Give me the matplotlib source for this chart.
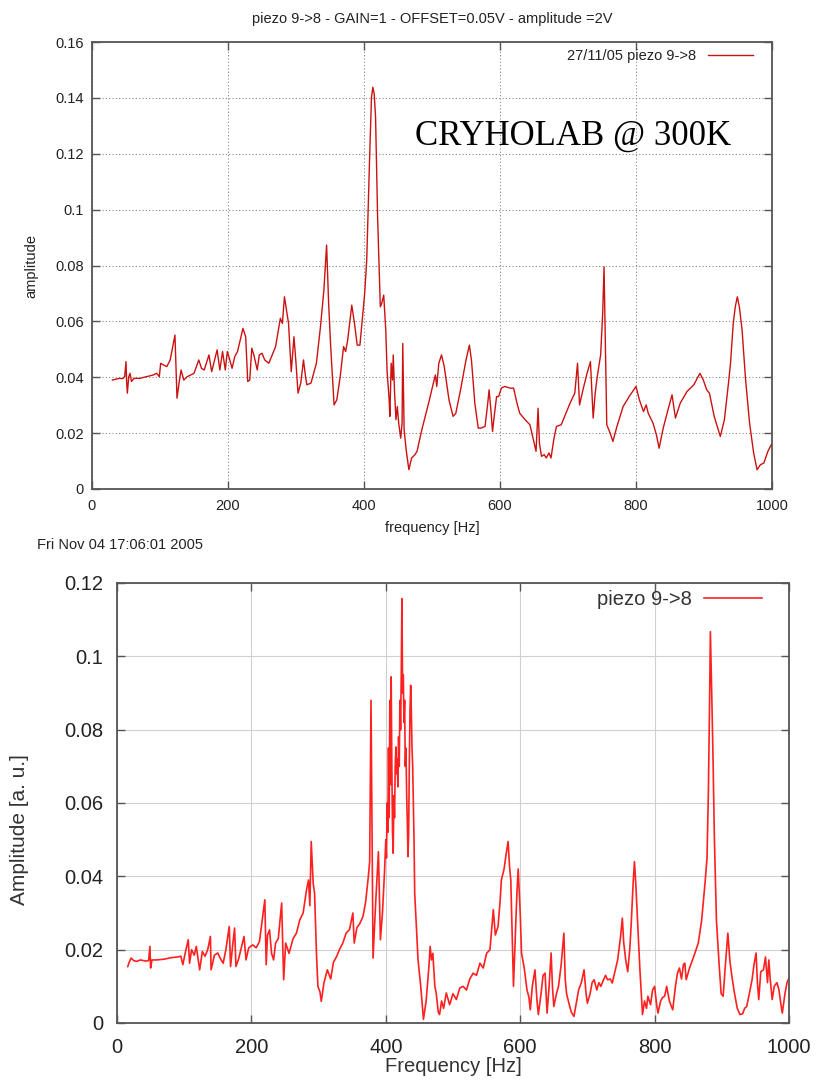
import matplotlib
matplotlib.use("Agg")
import matplotlib.pyplot as plt

# ---------------- data: top panel (27/11/05 piezo 9->8) ----------------
top_freq = [30, 35, 40, 45, 48, 50, 51, 52, 54, 56, 58, 62, 70, 80, 90, 95, 99, 101, 105, 110,
            115, 122, 125, 128, 131, 135, 140, 150, 157, 161, 165, 172, 176, 184, 188, 192, 196, 199,
            202, 206, 210, 214, 222, 226, 229, 232, 235, 238, 243, 246, 250, 254, 260, 265, 270,
            277, 280, 283, 286, 289, 293, 297, 300, 303, 307, 311, 314, 316, 322, 330, 336, 341,
            345, 348, 351, 356, 360, 365, 370, 373, 376, 382, 386, 390, 394, 397, 401, 404, 408,
            411, 413, 415, 417, 420, 424, 426, 429, 432, 434, 437, 438, 440, 442, 443, 445, 447,
            449, 451, 454, 456, 457, 459, 462, 466, 470, 475, 478, 485, 495, 502, 505, 507,
            510, 514, 518, 525, 531, 535, 542, 550, 555, 558, 563, 568, 572, 578, 582, 584, 587,
            589, 592, 595, 598, 602, 607, 615, 620, 625, 629, 637, 644, 648, 653, 656, 658, 661,
            665, 668, 672, 675, 679, 683, 690, 695, 703, 710, 714, 717, 722, 728, 733, 737, 740,
            743, 748, 751, 753, 755, 757, 762, 766, 772, 781, 790, 800, 805, 811, 815, 818, 825,
            830, 834, 840, 847, 853, 858, 865, 875, 885, 894, 899, 904, 908, 915, 924, 930, 936,
            939, 943, 946, 949, 952, 956, 961, 967, 973, 978, 983, 988, 994, 1000]
top_amp = [0.0390, 0.0393, 0.0396, 0.0395, 0.0402, 0.0456, 0.0379, 0.0343, 0.0402, 0.0414, 0.0385,
           0.0396, 0.0396, 0.0402, 0.0408, 0.0414, 0.0402, 0.0450, 0.0444, 0.0438,
           0.0462, 0.0551, 0.0325, 0.0379, 0.0426, 0.0390, 0.0402, 0.0414, 0.0462, 0.0432, 0.0426,
           0.0480, 0.0420, 0.0498, 0.0426, 0.0492, 0.0426, 0.0492,
           0.0468, 0.0432, 0.0474, 0.0492, 0.0575, 0.0545, 0.0385, 0.0390, 0.0504, 0.0480, 0.0426,
           0.0480, 0.0486, 0.0462, 0.0450, 0.0480, 0.0510,
           0.0611, 0.0593, 0.0688, 0.0640, 0.0593, 0.0420, 0.0545, 0.0450, 0.0343, 0.0379, 0.0462,
           0.0402, 0.0373, 0.0379, 0.0450, 0.0581, 0.0712,
           0.0873, 0.0664, 0.0510, 0.0301, 0.0319, 0.0402, 0.0510, 0.0492, 0.0533, 0.0658, 0.0593,
           0.0515, 0.0515, 0.0593, 0.0700, 0.0819, 0.1164,
           0.1402, 0.1438, 0.1414, 0.1331, 0.0974, 0.0652, 0.0664, 0.0694, 0.0569, 0.0420, 0.0319,
           0.0260, 0.0450, 0.0390, 0.0480, 0.0343, 0.0248,
           0.0295, 0.0236, 0.0182, 0.0236, 0.0521, 0.0212, 0.0140, 0.0069, 0.0111, 0.0123, 0.0135,
           0.0212, 0.0307, 0.0379, 0.0408, 0.0367,
           0.0450, 0.0480, 0.0438, 0.0319, 0.0260, 0.0271, 0.0355, 0.0462, 0.0515, 0.0462, 0.0307,
           0.0218, 0.0218, 0.0224, 0.0307, 0.0355, 0.0271,
           0.0206, 0.0271, 0.0331, 0.0331, 0.0361, 0.0367, 0.0361, 0.0361, 0.0307, 0.0271, 0.0248,
           0.0230, 0.0188, 0.0135, 0.0289, 0.0164, 0.0117,
           0.0123, 0.0111, 0.0129, 0.0111, 0.0176, 0.0224, 0.0230, 0.0260, 0.0307, 0.0343, 0.0450,
           0.0301, 0.0355, 0.0414, 0.0456, 0.0254, 0.0343,
           0.0402, 0.0480, 0.0629, 0.0795, 0.0521, 0.0230, 0.0200, 0.0170, 0.0224, 0.0295, 0.0331,
           0.0367, 0.0319, 0.0277, 0.0301, 0.0271, 0.0236,
           0.0194, 0.0146, 0.0218, 0.0283, 0.0337, 0.0254, 0.0307, 0.0349, 0.0373, 0.0414, 0.0390,
           0.0355, 0.0343, 0.0260, 0.0188, 0.0248, 0.0379,
           0.0450, 0.0593, 0.0652, 0.0688, 0.0652, 0.0569, 0.0396, 0.0236, 0.0129, 0.0069, 0.0087,
           0.0093, 0.0135, 0.0164]

# ---------------- data: bottom panel (piezo 9->8) ----------------
bot_freq = [16, 18, 21, 25, 29, 35, 42, 47, 49, 50, 52, 59, 70, 80, 90, 95, 98, 102, 106, 108,
            111, 115, 118, 121, 123, 127, 131, 135, 139, 140, 145, 150, 154, 158, 162, 167, 169,
            172, 175, 177, 181, 185, 189, 192, 196, 202, 207, 212, 216, 220, 222, 224, 227, 230,
            233, 236, 240, 245, 248, 251, 256, 262, 267, 272, 277, 282, 285, 287, 289, 292, 294,
            297, 299, 302, 304, 308, 313, 318, 322, 327, 331, 336, 341, 346, 351, 353, 357, 361,
            366, 370, 374, 376, 378, 380, 381, 385, 389, 392, 395,
            398, 400, 401, 402, 403, 404, 405, 406, 407, 408, 409, 410, 411, 412, 413, 414, 415,
            416, 417, 418, 419, 420, 421, 422, 423, 424, 425, 426, 427, 428, 429, 430, 431, 432,
            433, 434, 435, 436, 437, 438, 439, 440, 442, 443, 448, 452,
            456, 460, 464, 466, 468, 470, 473, 475, 478, 480, 483, 486, 490, 495, 500, 505, 510,
            515, 520, 525, 530, 535, 540, 545, 550, 555, 560, 563, 567, 570, 572, 576, 579, 582,
            584, 586, 588, 590, 592, 595, 597, 600, 602, 606, 610, 613, 615, 618, 622, 625, 627,
            631, 634, 637, 640, 643, 646, 648, 650, 654, 657, 661, 665, 667, 669, 673, 676, 680,
            684, 687, 691, 695, 698, 700, 704, 707, 710, 714, 717, 720, 724, 727, 730, 734, 737,
            741, 745, 749, 752, 754, 757, 760, 763, 765, 768, 770, 772, 775, 778, 782, 785, 788,
            790, 794, 797, 800, 803, 805, 809, 812, 815, 818, 822, 827, 831, 834, 837, 840, 843,
            845, 847, 852, 858, 865, 870, 875, 878, 880, 882, 883, 885, 887, 889, 892, 896, 899,
            902, 905, 909, 912, 915, 919, 923, 927, 931, 934, 937, 941, 945, 948, 951, 953, 955,
            958, 962, 965, 968, 970, 972, 975, 978, 982, 985, 988, 990, 994, 997, 1000]
bot_amp = [0.0154, 0.0165, 0.0177, 0.0170, 0.0168, 0.0172, 0.0169, 0.0170, 0.0209, 0.0150, 0.0172,
           0.0172, 0.0174, 0.0178, 0.0180, 0.0182, 0.0159, 0.0195, 0.0227, 0.0163,
           0.0200, 0.0185, 0.0209, 0.0170, 0.0145, 0.0195, 0.0182, 0.0200, 0.0236, 0.0145, 0.0185,
           0.0191, 0.0175, 0.0163, 0.0200, 0.0263, 0.0154,
           0.0210, 0.0259, 0.0154, 0.0175, 0.0205, 0.0236, 0.0172, 0.0205, 0.0213, 0.0205, 0.0222,
           0.0280, 0.0336, 0.0159, 0.0240, 0.0254, 0.0190,
           0.0172, 0.0218, 0.0230, 0.0327, 0.0118, 0.0218, 0.0190, 0.0230, 0.0245, 0.0281, 0.0300,
           0.0363, 0.0390, 0.0320, 0.0495, 0.0380, 0.0354,
           0.0180, 0.0100, 0.0085, 0.0059, 0.0110, 0.0145, 0.0120, 0.0165, 0.0182, 0.0200, 0.0218,
           0.0245, 0.0255, 0.0300, 0.0218, 0.0260, 0.0270,
           0.0290, 0.0330, 0.0399, 0.0440, 0.0880, 0.0400, 0.0177, 0.0330, 0.0467, 0.0227, 0.0300,
           0.0408, 0.0500, 0.0450, 0.0600, 0.0520, 0.0750, 0.0560, 0.0880, 0.0650, 0.0944, 0.0700,
           0.0520, 0.0463, 0.0620, 0.0560, 0.0700, 0.0753,
           0.0680, 0.0720, 0.0644, 0.0780, 0.0700, 0.0880, 0.0800, 0.0950, 0.1157, 0.0900, 0.0950,
           0.0820, 0.0880, 0.0700, 0.0750, 0.0626, 0.0550,
           0.0454, 0.0520, 0.0700, 0.0850, 0.0921, 0.0850, 0.0750, 0.0700, 0.0500, 0.0354, 0.0172,
           0.0100,
           0.0010, 0.0060, 0.0150, 0.0209, 0.0172, 0.0190, 0.0100, 0.0082, 0.0030, 0.0023, 0.0060,
           0.0040, 0.0082, 0.0050, 0.0080, 0.0064, 0.0095,
           0.0100, 0.0090, 0.0120, 0.0136, 0.0130, 0.0163, 0.0150, 0.0190, 0.0200, 0.0309, 0.0240,
           0.0263, 0.0330, 0.0390, 0.0420, 0.0460, 0.0495,
           0.0430, 0.0390, 0.0250, 0.0100, 0.0200, 0.0350, 0.0420, 0.0300, 0.0191, 0.0150, 0.0091,
           0.0070, 0.0036, 0.0100, 0.0145, 0.0060, 0.0023,
           0.0080, 0.0130, 0.0136, 0.0027, 0.0100, 0.0191, 0.0100, 0.0045, 0.0080, 0.0100, 0.0160,
           0.0245, 0.0120, 0.0080, 0.0050, 0.0030, 0.0018,
           0.0060, 0.0091, 0.0110, 0.0145, 0.0080, 0.0054, 0.0080, 0.0110, 0.0118, 0.0090, 0.0110,
           0.0100, 0.0118, 0.0130, 0.0118, 0.0120, 0.0109,
           0.0140, 0.0172, 0.0230, 0.0286, 0.0220, 0.0172, 0.0140, 0.0200, 0.0263, 0.0380, 0.0440,
           0.0380, 0.0263, 0.0150, 0.0023, 0.0060, 0.0040,
           0.0073, 0.0050, 0.0090, 0.0100, 0.0050, 0.0027, 0.0060, 0.0070, 0.0073, 0.0100, 0.0060,
           0.0036, 0.0100, 0.0136, 0.0150, 0.0120, 0.0160,
           0.0163, 0.0118, 0.0150, 0.0180, 0.0218, 0.0280, 0.0381, 0.0450, 0.0627, 0.0900, 0.1067,
           0.0900, 0.0717, 0.0500, 0.0281, 0.0160, 0.0080,
           0.0073, 0.0150, 0.0245, 0.0170, 0.0127, 0.0080, 0.0040, 0.0023, 0.0025, 0.0040, 0.0045,
           0.0080, 0.0118, 0.0160, 0.0191, 0.0110, 0.0064,
           0.0140, 0.0145, 0.0180, 0.0110, 0.0172, 0.0120, 0.0064, 0.0100, 0.0110, 0.0091, 0.0050,
           0.0027, 0.0080, 0.0110, 0.0122]

top_yticks = [0, 0.02, 0.04, 0.06, 0.08, 0.1, 0.12, 0.14, 0.16]
top_yticklabels = ["0", "0.02", "0.04", "0.06", "0.08", "0.1", "0.12", "0.14", "0.16"]
bot_yticks = [0, 0.02, 0.04, 0.06, 0.08, 0.1, 0.12]
bot_yticklabels = ["0", "0.02", "0.04", "0.06", "0.08", "0.1", "0.12"]
xticks = [0, 200, 400, 600, 800, 1000]

top_title = "piezo 9->8 - GAIN=1 - OFFSET=0.05V - amplitude =2V"
top_label = "27/11/05 piezo 9->8"
bot_label = "piezo 9->8"

plt.rcParams['font.family'] = ['Liberation Sans', 'DejaVu Sans']

W, H = 817, 1084
fig = plt.figure(figsize=(W / 100, H / 100), dpi=100)
fig.patch.set_facecolor('white')


def frac(left, top, right, bottom):
    return [left / W, 1 - bottom / H, (right - left) / W, (bottom - top) / H]


def style_axes(ax, fs, grid_kw, spine_color, xpad, ypad):
    for s in ax.spines.values():
        s.set_color(spine_color)
        s.set_linewidth(1.3)
    ax.tick_params(direction='in', length=6, width=1.0, color=spine_color,
                   top=True, right=True, labelsize=fs, labelcolor='#222222')
    ax.tick_params(axis='x', pad=xpad)
    ax.tick_params(axis='y', pad=ypad)
    ax.grid(True, **grid_kw)
    ax.set_axisbelow(True)


# ---------------- top panel ----------------
ax1 = fig.add_axes(frac(92, 42, 772, 489))
ax1.plot(top_freq, top_amp, color='#cc1111', lw=1.0, label=top_label)
ax1.set_xlim(0, 1000)
ax1.set_ylim(0, 0.16)
ax1.set_xticks(xticks)
ax1.set_yticks(top_yticks)
ax1.set_yticklabels(top_yticklabels)
style_axes(ax1, 10.5, dict(color='#888888', linestyle=(0, (1, 2)), linewidth=0.8), '#555555', 7, 6)
ax1.set_xlabel("frequency [Hz]", fontsize=10.5, color='#222222', labelpad=6)
ax1.set_ylabel("amplitude", fontsize=10.5, color='#222222', labelpad=12)
ax1.set_title(top_title, fontsize=10.5, color='#222222', pad=14)
leg1 = ax1.legend(loc='upper right', bbox_to_anchor=(0.972, 0.985), frameon=False,
                  markerfirst=False, borderpad=0, borderaxespad=0, handlelength=3.1,
                  handletextpad=0.8, fontsize=10.5)
for t in leg1.get_texts():
    t.set_color('#222222')
ax1.text(0.475, 0.7696, "CRYHOLAB @ 300K", transform=ax1.transAxes,
         fontsize=25, family=['Liberation Serif', 'DejaVu Serif'], color='black',
         ha='left', va='baseline')
fig.text(37 / W, 1 - 545 / H, "Fri Nov 04 17:06:01 2005", fontsize=10.5,
         color='#222222', ha='left', va='center')

# ---------------- bottom panel ----------------
ax2 = fig.add_axes(frac(117, 583, 789, 1023))
ax2.plot(bot_freq, bot_amp, color='#ff2020', lw=1.2, label=bot_label)
ax2.set_xlim(0, 1000)
ax2.set_ylim(0, 0.12)
ax2.set_xticks(xticks)
ax2.set_yticks(bot_yticks)
ax2.set_yticklabels(bot_yticklabels)
style_axes(ax2, 14.5, dict(color='#d0d0d0', linestyle='-', linewidth=0.8), '#555555', 11, 10)
ax2.set_xlabel("Frequency [Hz]", fontsize=14.5, color='#333333', labelpad=0)
ax2.set_ylabel("Amplitude [a. u.]", fontsize=15, color='#333333')
ax2.yaxis.set_label_coords(-0.131, 0.44)
leg2 = ax2.legend(loc='upper right', bbox_to_anchor=(0.96, 0.985), frameon=False,
                  markerfirst=False, borderpad=0, borderaxespad=0, handlelength=2.9,
                  handletextpad=0.6, fontsize=14.5)
for t in leg2.get_texts():
    t.set_color('#333333')

fig.savefig("out.png", dpi=100, facecolor='white')
